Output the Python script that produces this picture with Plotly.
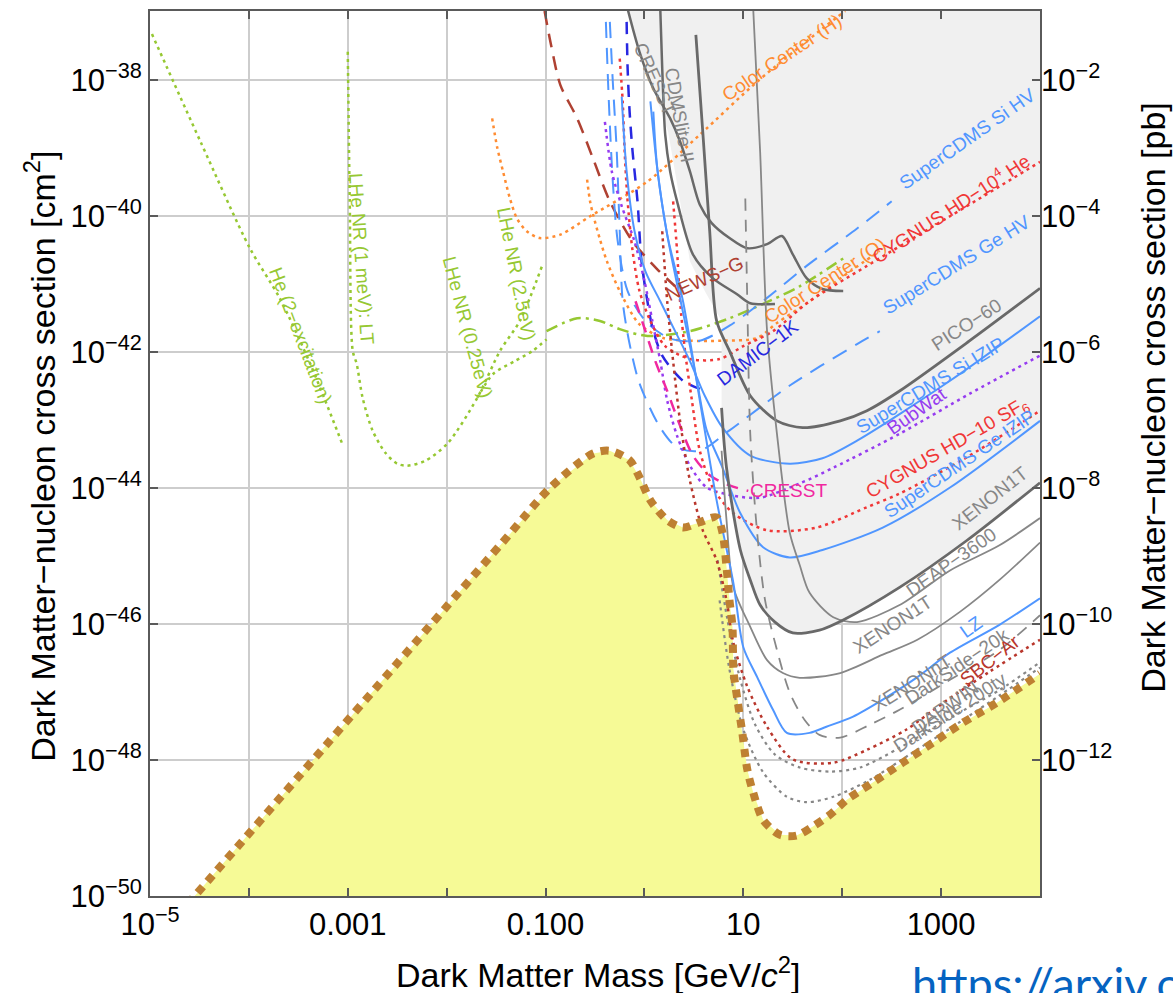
import numpy as np
import plotly.graph_objects as go

FONT = "Liberation Sans, Arial, Helvetica, sans-serif"

# ---------------------------------------------------------------
# All curves: log10(mass / GeV c^-2) and log10(sigma / cm^2)
# ---------------------------------------------------------------

# Neutrino floor
floor_m = [-4.62, -1.46, -0.95, -0.52, -0.35, -0.15, -0.05, 0.06, 0.23, 0.39, 0.56, 0.73,
           0.79, 0.83, 0.86, 0.89, 0.90, 0.94, 0.99, 1.04, 1.10, 1.20, 1.37, 1.54, 1.70,
           1.88, 2.05, 2.31, 2.61, 2.92, 3.22, 3.56, 4.0]
floor_s = [-50.12, -44.84, -43.99, -43.49, -43.45, -43.59, -43.84, -44.18, -44.47, -44.58,
           -44.50, -44.43, -44.66, -45.16, -45.65, -46.04, -46.67, -47.11, -47.60, -48.14,
           -48.48, -48.88, -49.10, -49.11, -48.98, -48.80, -48.58, -48.33, -48.04, -47.74,
           -47.45, -47.16, -46.73]

# Upper-left edge of the already-excluded region (continues along XENON1T)
excl_m = [-0.17, -0.05, 0.09, 0.24, 0.36, 0.46, 0.61, 0.78]
excl_s = [-36.90, -37.58, -38.12, -38.76, -39.78, -40.66, -41.10, -41.54]

# Current limits (grey solid)
xe1t_m = [0.78, 0.83, 0.97, 1.07, 1.17, 1.32, 1.50, 1.77, 2.01, 2.58, 3.26, 4.0]
xe1t_s = [-42.82, -43.70, -44.91, -45.35, -45.72, -45.97, -46.13, -46.09, -45.94, -45.46,
          -44.77, -43.92]
pico_m = [0.52, 0.59, 0.66, 0.73, 0.86, 1.07, 1.34, 1.60, 1.98, 2.25, 2.58, 3.29, 4.0]
pico_s = [-37.33, -38.76, -40.22, -41.54, -41.98, -42.64, -43.01, -43.11, -43.01, -42.86,
          -42.57, -41.83, -41.06]
cresst_m = [-0.17, -0.05, 0.09, 0.26, 0.36, 0.46, 0.56, 0.68, 0.86, 1.04, 1.24, 1.39, 1.50,
            1.64, 1.80, 2.01]
cresst_s = [-36.95, -37.58, -38.12, -38.56, -38.90, -39.34, -39.83, -40.10, -40.32, -40.47,
            -40.41, -40.29, -40.56, -40.91, -41.07, -41.10]
cdmslite_m = [0.16, 0.18, 0.21, 0.26, 0.33, 0.49, 0.69, 0.94, 1.07, 1.32]
cdmslite_s = [-36.95, -37.83, -38.80, -39.34, -39.78, -40.56, -40.91, -41.15, -41.28, -41.29]
deap_m = [1.10, 1.17, 1.24, 1.34, 1.47, 1.57, 1.67, 1.91, 2.15, 2.58, 3.09, 3.59, 4.0]
deap_s = [-36.95, -39.05, -41.69, -43.20, -44.66, -45.13, -45.54, -45.90, -45.97, -45.72,
          -45.21, -44.84, -44.44]

# Projections
xent_m = [0.78, 0.83, 0.90, 1.07, 1.24, 1.40, 1.57, 1.98, 2.41, 2.76, 3.19, 3.59, 4.0]
xent_s = [-43.45, -44.47, -45.46, -46.04, -46.53, -46.72, -46.79, -46.72, -46.45, -46.23,
          -45.82, -45.35, -44.80]
ds20k_m = [1.02, 1.04, 1.07, 1.14, 1.22, 1.34, 1.47, 1.62, 1.77, 1.98, 2.28, 2.58, 3.09,
           3.59, 4.0]
ds20k_s = [-39.74, -41.25, -43.20, -44.66, -45.65, -46.38, -47.01, -47.41, -47.63, -47.67,
           -47.48, -47.26, -46.82, -46.38, -45.87]
darwin_m = [0.74, 0.84, 0.97, 1.12, 1.32, 1.57, 1.88, 2.18, 2.58, 3.09, 3.59, 4.0]
darwin_s = [-45.06, -45.94, -46.82, -47.48, -47.92, -48.11, -48.17, -48.11, -47.82, -47.38,
            -46.97, -46.56]
ds200_m = [0.76, 0.86, 1.00, 1.20, 1.44, 1.64, 1.91, 2.28, 2.68, 3.19, 3.59, 4.0]
ds200_s = [-45.65, -46.67, -47.55, -48.18, -48.54, -48.62, -48.54, -48.29, -47.92, -47.44,
           -47.05, -46.64]
lz_m = [0.06, 0.13, 0.23, 0.39, 0.56, 0.73, 0.90, 1.00, 1.14, 1.30, 1.44, 1.67, 1.84, 2.11,
        2.41, 2.76, 3.09, 3.59, 4.0]
lz_s = [-38.31, -39.30, -40.27, -41.25, -42.71, -44.18, -45.40, -46.34, -46.78, -47.26,
        -47.60, -47.60, -47.51, -47.36, -47.11, -46.78, -46.42, -46.01, -45.62]
sbc_m = [0.18, 0.23, 0.29, 0.36, 0.46, 0.59, 0.73, 0.83, 0.90, 1.04, 1.24, 1.50, 1.91, 2.25,
         2.65, 3.02, 3.49, 4.0]
sbc_s = [-40.22, -41.25, -42.13, -43.01, -43.89, -44.62, -45.06, -45.65, -46.28, -46.92,
         -47.51, -47.99, -48.04, -47.85, -47.55, -47.16, -46.70, -46.23]
si_izip_m = [-0.23, -0.18, -0.10, 0.01, 0.16, 0.31, 0.46, 0.61, 0.79, 1.07, 1.47, 1.80, 2.15,
             3.09, 4.0]
si_izip_s = [-38.24, -39.34, -40.22, -40.81, -41.25, -41.69, -42.13, -42.64, -43.11, -43.52,
             -43.64, -43.56, -43.30, -42.42, -41.47]
ge_izip_m = [0.09, 0.13, 0.23, 0.33, 0.43, 0.53, 0.63, 0.79, 0.97, 1.20, 1.47, 1.80, 2.41,
             3.09, 4.0]
ge_izip_s = [-38.46, -39.30, -40.27, -41.00, -41.69, -42.42, -43.15, -43.70, -44.37, -44.87,
             -45.02, -44.91, -44.58, -43.99, -43.01]
si_hv_m = [-0.39, -0.36, -0.32, -0.27, -0.17, 0.01, 0.26, 0.56, 0.86, 1.24, 1.64, 2.15, 2.50]
si_hv_s = [-37.14, -38.31, -39.49, -40.37, -41.10, -41.54, -41.80, -41.83, -41.61, -41.20,
           -40.73, -40.18, -39.78]
ge_hv_m = [-0.35, -0.32, -0.28, -0.25, -0.22, -0.15, -0.05, 0.16, 0.33, 0.56, 0.86, 1.47,
           2.15, 2.38]
ge_hv_s = [-37.14, -38.02, -39.05, -40.22, -41.25, -41.88, -42.46, -43.11, -43.40, -43.45,
           -43.15, -42.49, -41.88, -41.69]
damic_m = [-0.18, -0.17, -0.15, -0.12, -0.07, -0.03, 0.03, 0.08, 0.18, 0.39, 0.56]
damic_s = [-37.14, -37.83, -38.46, -39.05, -39.78, -40.66, -41.25, -41.63, -42.05, -42.42,
           -42.54]
bubwat_m = [-0.40, -0.33, -0.23, -0.10, 0.00, 0.08, 0.16, 0.23, 0.33, 0.46, 0.63, 0.90, 1.17,
            1.57, 1.91, 2.58, 3.29, 4.0]
bubwat_s = [-38.61, -39.34, -39.85, -40.37, -40.95, -41.54, -42.13, -42.71, -43.23, -43.67,
            -43.99, -44.11, -44.14, -43.93, -43.70, -43.20, -42.61, -42.05]
cresst_fut_m = [-0.09, 0.01, 0.11, 0.23, 0.36, 0.49, 0.66, 0.86, 1.05]
cresst_fut_s = [-41.25, -41.69, -42.13, -42.57, -43.08, -43.52, -43.81, -43.96, -44.04]
cyg_he_m = [-0.25, -0.22, -0.20, -0.17, -0.12, -0.05, 0.06, 0.21, 0.46, 0.76, 1.00, 1.30,
            1.67, 2.25, 3.09, 4.0]
cyg_he_s = [-37.68, -38.31, -39.05, -39.78, -40.51, -41.10, -41.54, -41.91, -42.10, -42.10,
            -41.91, -41.69, -41.25, -40.73, -40.00, -39.20]
cyg_sf6_m = [0.29, 0.33, 0.36, 0.41, 0.48, 0.56, 0.69, 0.90, 1.24, 1.74, 2.25, 2.58, 3.29, 4.0]
cyg_sf6_s = [-39.78, -40.51, -41.25, -41.98, -42.71, -43.45, -43.99, -44.37, -44.62, -44.58,
             -44.28, -44.08, -43.52, -42.86]
newsg_m = [-1.01, -0.94, -0.85, -0.68, -0.52, -0.35, -0.12, 0.13, 0.31]
newsg_s = [-36.98, -37.51, -38.07, -38.56, -39.15, -39.78, -40.37, -40.78, -41.03]
cc_h_m = [-1.54, -1.49, -1.43, -1.36, -1.29, -1.19, -1.06, -0.85, -0.55, 0.03, 0.56, 1.14,
          1.80, 2.03]
cc_h_s = [-38.56, -38.98, -39.34, -39.74, -40.03, -40.22, -40.32, -40.27, -40.00, -39.49,
          -38.80, -38.02, -37.24, -36.98]
cc_o_m = [-0.58, -0.55, -0.52, -0.45, -0.38, -0.25, -0.05, 0.19, 0.46, 0.79, 1.14, 1.34, 1.67,
          2.08, 2.38]
cc_o_s = [-39.46, -39.78, -39.97, -40.34, -40.66, -41.10, -41.59, -41.79, -41.83, -41.83,
          -41.79, -41.57, -41.25, -40.81, -40.51]

# Helium proposals
he2_m = [-4.98, -4.49, -3.99, -3.69, -3.38, -3.05]
he2_s = [-37.32, -38.90, -40.47, -41.20, -42.17, -43.37]
lhe_1mev_m = [-3.00, -2.98, -2.95, -2.91, -2.85, -2.75, -2.62, -2.50, -2.40, -2.22, -1.99,
              -1.69, -1.46, -1.26, -1.03]
lhe_1mev_s = [-37.58, -39.78, -41.98, -42.17, -42.67, -43.15, -43.48, -43.64, -43.67, -43.60,
              -43.34, -42.67, -41.98, -41.54, -40.71]
lhe_025_m = [-1.69, -1.53, -1.31, -1.13, -0.99]
lhe_025_s = [-42.67, -42.32, -42.13, -41.98, -41.81]
lhe_25_m = [-0.99, -0.68, -0.45, -0.25, 0.03, 0.46, 0.86, 1.20, 1.57, 2.01]
lhe_25_s = [-41.69, -41.50, -41.54, -41.66, -41.76, -41.69, -41.50, -41.29, -41.03, -40.62]

# Axis ticks
x_tick_exp = [-5, -4, -3, -2, -1, 0, 1, 2, 3, 4]
x_tick_text = ["10<sup>\u22125</sup>", "", "0.001", "", "0.100", "", "10", "", "1000", ""]
y_tick_exp = [-50, -48, -46, -44, -42, -40, -38]
pb_tick_exp = [-12, -10, -8, -6, -4, -2]

# Colours
GREY_DARK = "rgb(105,105,105)"
GREY = "rgb(135,135,135)"
GREEN = "rgb(150,200,50)"
ORANGE = "rgb(255,140,50)"
BLUE = "rgb(80,150,255)"
DBLUE = "rgb(40,40,225)"
PURPLE = "rgb(150,60,240)"
MAGENTA = "rgb(240,40,160)"
RED = "rgb(240,55,55)"
DRED = "rgb(185,55,45)"
BROWN_RED = "rgb(175,65,50)"

DOT = "3px,4px"


def pts(m, s):
    return 10 ** np.asarray(m, float), 10 ** np.asarray(s, float)


def curve(m, s, color, width=2.0, dash="solid", shape="spline"):
    x, y = pts(m, s)
    return go.Scatter(x=x, y=y, mode="lines",
                      line=dict(color=color, width=width, dash=dash, shape=shape, smoothing=0.8),
                      hoverinfo="skip", showlegend=False)


fig = go.Figure()

# Excluded region (grey) bounded by the current limits
gx = list(excl_m) + list(xe1t_m) + [4.0]
gy = list(excl_s) + list(xe1t_s) + [-36.90]
x, y = pts(gx, gy)
fig.add_trace(go.Scatter(x=x, y=y, mode="lines", fill="toself",
                         fillcolor="rgb(240,240,240)", line=dict(width=0),
                         hoverinfo="skip", showlegend=False))

# Neutrino-floor region (yellow)
fx = list(floor_m) + [4.0, floor_m[0]]
fy = list(floor_s) + [-51.0, -51.0]
x, y = pts(fx, fy)
fig.add_trace(go.Scatter(x=x, y=y, mode="lines", fill="toself",
                         fillcolor="rgb(246,250,150)", line=dict(width=0),
                         hoverinfo="skip", showlegend=False))

# Helium-based proposals
fig.add_trace(curve(he2_m, he2_s, GREEN, 2.5, DOT))
fig.add_trace(curve(lhe_1mev_m, lhe_1mev_s, GREEN, 2.5, DOT))
fig.add_trace(curve(lhe_025_m, lhe_025_s, GREEN, 2.5, DOT))
fig.add_trace(curve(lhe_25_m, lhe_25_s, GREEN, 2.5, "12px,5px,3px,5px"))

# Colour-centre proposals
fig.add_trace(curve(cc_h_m, cc_h_s, ORANGE, 2.5, DOT))
fig.add_trace(curve(cc_o_m, cc_o_s, ORANGE, 2.5, DOT))

# Low-mass projections
fig.add_trace(curve(newsg_m, newsg_s, BROWN_RED, 2.5, "14px,9px"))
fig.add_trace(curve(si_hv_m, si_hv_s, BLUE, 2.0, "16px,10px"))
fig.add_trace(curve(ge_hv_m, ge_hv_s, BLUE, 2.0, "16px,10px"))
fig.add_trace(curve(damic_m, damic_s, DBLUE, 2.5, "12px,9px"))
fig.add_trace(curve(bubwat_m, bubwat_s, PURPLE, 2.5, DOT))
fig.add_trace(curve(cresst_fut_m, cresst_fut_s, MAGENTA, 2.5, "12px,9px"))
fig.add_trace(curve(cyg_he_m, cyg_he_s, RED, 2.5, DOT))
fig.add_trace(curve(cyg_sf6_m, cyg_sf6_s, RED, 2.5, DOT))
fig.add_trace(curve(si_izip_m, si_izip_s, BLUE, 2.0))
fig.add_trace(curve(ge_izip_m, ge_izip_s, BLUE, 2.0))

# Current limits
fig.add_trace(curve(cresst_m, cresst_s, GREY_DARK, 2.5))
fig.add_trace(curve(cdmslite_m, cdmslite_s, GREY_DARK, 2.5))
fig.add_trace(curve(pico_m, pico_s, GREY_DARK, 2.8))
fig.add_trace(curve(deap_m, deap_s, GREY, 1.8))
fig.add_trace(curve(xe1t_m, xe1t_s, GREY_DARK, 2.8))

# High-mass projections
fig.add_trace(curve(xent_m, xent_s, GREY, 1.8))
fig.add_trace(curve(ds20k_m, ds20k_s, GREY, 1.8, "12px,9px"))
fig.add_trace(curve(darwin_m, darwin_s, GREY, 2.2, DOT))
fig.add_trace(curve(ds200_m, ds200_s, GREY, 2.2, DOT))
fig.add_trace(curve(sbc_m, sbc_s, DRED, 2.5, DOT))
fig.add_trace(curve(lz_m, lz_s, BLUE, 2.0))

# Neutrino floor line
fig.add_trace(curve(floor_m, floor_s, "rgb(190,128,50)", 8, "8px,7px"))

# Invisible anchor for the secondary (pb) axis
fig.add_trace(go.Scatter(x=[1e-5], y=[1e-10], yaxis="y2", mode="markers",
                         marker=dict(opacity=0), hoverinfo="skip", showlegend=False))

# Curve labels: (text, log10 m, log10 sigma, angle, colour)
labels = [
    ("He (2\u2212excitation)", -3.48, -41.76, 69, GREEN),
    ("LHe NR (1 meV): LT", -2.86, -40.62, 86, GREEN),
    ("LHe NR (0.25eV)", -1.79, -41.64, 75, GREEN),
    ("LHe NR (2.5eV)", -1.29, -40.85, 79, GREEN),
    ("CRESST", 0.10, -37.98, 66, GREY),
    ("CDMSlite II", 0.36, -38.51, 80, GREY),
    ("Color Center (H)", 1.39, -37.66, -34, ORANGE),
    ("NEWS\u2212G", 0.61, -40.91, -24, BROWN_RED),
    ("Color Center (O)", 1.83, -40.95, -33, ORANGE),
    ("SuperCDMS Si HV", 3.27, -38.86, -35, BLUE),
    ("CYGNUS HD\u221210<sup>4</sup> He", 3.09, -39.88, -33, RED),
    ("SuperCDMS Ge HV", 3.16, -40.71, -32, BLUE),
    ("DAMIC\u22121K", 1.15, -42.01, -37, DBLUE),
    ("PICO\u221260", 3.26, -41.59, -33, GREY),
    ("SuperCDMS Si IZIP", 2.89, -42.49, -31, BLUE),
    ("BubWat", 2.76, -42.86, -35, PURPLE),
    ("CYGNUS HD\u221210 SF<sub>6</sub>", 3.06, -43.42, -30, RED),
    ("SuperCDMS Ge IZIP", 3.19, -43.64, -34, BLUE),
    ("CRESST", 1.46, -44.03, 0, MAGENTA),
    ("XENON1T", 3.49, -44.15, -38, GREY),
    ("DEAP\u22123600", 3.10, -45.10, -35, GREY),
    ("XENON1T", 2.51, -46.01, -33, GREY),
    ("LZ", 3.31, -46.04, -35, BLUE),
    ("XENONnT", 2.71, -46.86, -32, GREY),
    ("DarkSide\u221220k", 3.16, -46.63, -34, GREY),
    ("SBC\u2212Ar", 3.49, -46.53, -38, DRED),
    ("DARWIN", 3.04, -47.23, -35, GREY),
    ("DarkSide 200ty", 3.09, -47.30, -33, GREY),
]

annotations = []
for text, lm, ls, ang, col in labels:
    annotations.append(dict(text=text, x=lm, y=ls, xref="x", yref="y", showarrow=False,
                            textangle=ang, xanchor="center", yanchor="middle",
                            font=dict(family=FONT, size=19, color=col)))

# Axis titles and source link
annotations += [
    dict(text="Dark Matter Mass [GeV/<i>c</i><sup>2</sup>]", x=0.503, y=-0.086,
         xref="paper", yref="paper", showarrow=False, xanchor="center", yanchor="middle",
         font=dict(family=FONT, size=34, color="black")),
    dict(text="Dark Matter\u2212nucleon cross section [cm<sup>2</sup>]", x=-0.124, y=0.497,
         xref="paper", yref="paper", showarrow=False, textangle=-90,
         xanchor="center", yanchor="middle", font=dict(family=FONT, size=34, color="black")),
    dict(text="Dark Matter\u2212nucleon cross section [pb]", x=1.127, y=0.563,
         xref="paper", yref="paper", showarrow=False, textangle=-90,
         xanchor="center", yanchor="middle", font=dict(family=FONT, size=34, color="black")),
    dict(text="https://arxiv.org/abs", x=0.854, y=-0.066, xref="paper", yref="paper",
         showarrow=False, xanchor="left", yanchor="top",
         font=dict(family="Lato, Open Sans, sans-serif", size=45, color="rgb(5,99,193)")),
]

AX = "rgb(90,90,90)"
fig.update_layout(
    width=1173, height=993,
    margin=dict(l=150, r=133, t=9, b=97),
    paper_bgcolor="white", plot_bgcolor="white",
    showlegend=False,
    font=dict(family=FONT, color="black"),
    annotations=annotations,
    xaxis=dict(type="log", range=[-5, 4], tickmode="array",
               tickvals=[10.0 ** e for e in x_tick_exp], ticktext=x_tick_text,
               showgrid=True, gridcolor="rgb(205,205,205)", gridwidth=1.5,
               showline=True, linecolor=AX, linewidth=2, mirror="ticks",
               ticks="inside", ticklen=8, tickwidth=1.5, tickcolor=AX,
               tickfont=dict(size=31, color="black"), zeroline=False),
    yaxis=dict(type="log", range=[-50, -36.98], tickmode="array",
               tickvals=[10.0 ** e for e in y_tick_exp],
               ticktext=["10<sup>\u2212%d</sup>" % (-e) for e in y_tick_exp],
               showgrid=True, gridcolor="rgb(205,205,205)", gridwidth=1.5,
               showline=True, linecolor=AX, linewidth=2, mirror="ticks",
               ticks="inside", ticklen=8, tickwidth=1.5, tickcolor=AX,
               tickfont=dict(size=31, color="black"), zeroline=False),
    yaxis2=dict(type="log", range=[-14, -0.98], overlaying="y", side="right",
                tickmode="array", tickvals=[10.0 ** e for e in pb_tick_exp],
                ticktext=["10<sup>\u2212%d</sup>" % (-e) for e in pb_tick_exp],
                showgrid=False, showline=False, ticks="", zeroline=False,
                tickfont=dict(size=31, color="black")),
)

fig.write_html("out.html")
